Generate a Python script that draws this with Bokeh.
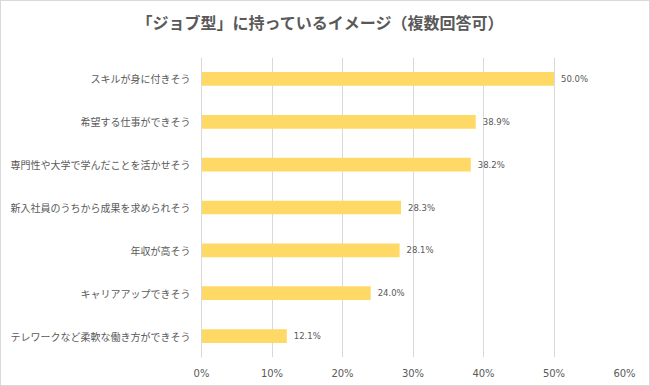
from bokeh.plotting import figure
from bokeh.models import (FactorRange, Range1d, FixedTicker, PrintfTickFormatter,
                          ColumnDataSource, LabelSet, Div)
from bokeh.layouts import column
from bokeh.core.properties import value
from bokeh.embed import file_html
from bokeh.resources import INLINE

title_text = "「ジョブ型」に持っているイメージ（複数回答可）"
categories = [
    "スキルが身に付きそう",
    "希望する仕事ができそう",
    "専門性や大学で学んだことを活かせそう",
    "新入社員のうちから成果を求められそう",
    "年収が高そう",
    "キャリアアップできそう",
    "テレワークなど柔軟な働き方ができそう",
]
values = [50.0, 38.9, 38.2, 28.3, 28.1, 24.0, 12.1]
value_labels = [f"{v:.1f}%" for v in values]
x_ticks = [0, 10, 20, 30, 40, 50, 60]

TEXT = "#595959"
GRID = "#d9d9d9"
BAR = "#FFD966"
JP = "Noto Sans CJK JP"

src = ColumnDataSource(dict(cat=categories, val=values, lab=value_labels))

head = Div(text=title_text, width=648, height=42, margin=0,
           styles={"font-size": "16px", "font-weight": "bold", "color": TEXT,
                   "font-family": JP, "text-align": "center",
                   "line-height": "42px", "padding-right": "10px",
                   "box-sizing": "border-box", "background": "white"})

p = figure(width=648, height=342, output_backend="svg", toolbar_location=None,
           y_range=FactorRange(factors=list(reversed(categories))),
           x_range=Range1d(0, 60),
           min_border_left=200, min_border_right=25,
           min_border_top=14, min_border_bottom=28, margin=0)

p.hbar(y="cat", right="val", left=0, height=0.32, source=src,
       fill_color=BAR, line_color=None)

p.add_layout(LabelSet(x="val", y="cat", text="lab", source=src, x_offset=7,
                      text_baseline="middle", text_align="left",
                      text_font_size="8.5px", text_color=TEXT,
                      text_font=value("DejaVu Sans")))

p.outline_line_color = None
p.background_fill_color = "white"
p.border_fill_color = "white"

p.xgrid.grid_line_color = GRID
p.xgrid.ticker = FixedTicker(ticks=x_ticks)
p.ygrid.grid_line_color = None

p.xaxis.ticker = FixedTicker(ticks=x_ticks)
p.xaxis.formatter = PrintfTickFormatter(format="%d%%")
p.xaxis.axis_line_color = None
p.xaxis.major_tick_line_color = None
p.xaxis.minor_tick_line_color = None
p.xaxis.major_tick_out = 0
p.xaxis.major_tick_in = 0
p.xaxis.major_label_standoff = 10
p.xaxis.major_label_text_font_size = "10px"
p.xaxis.major_label_text_font = "DejaVu Sans"
p.xaxis.major_label_text_color = TEXT

p.yaxis.axis_line_color = GRID
p.yaxis.major_tick_line_color = None
p.yaxis.minor_tick_line_color = None
p.yaxis.major_tick_out = 0
p.yaxis.major_tick_in = 0
p.yaxis.major_label_standoff = 11
p.yaxis.major_label_text_font_size = "10px"
p.yaxis.major_label_text_font = JP
p.yaxis.major_label_text_color = TEXT

layout = column(head, p, spacing=0, margin=0,
                styles={"border": "1px solid #d9d9d9", "background": "white"})

open("out.html", "w").write(file_html(layout, INLINE))
